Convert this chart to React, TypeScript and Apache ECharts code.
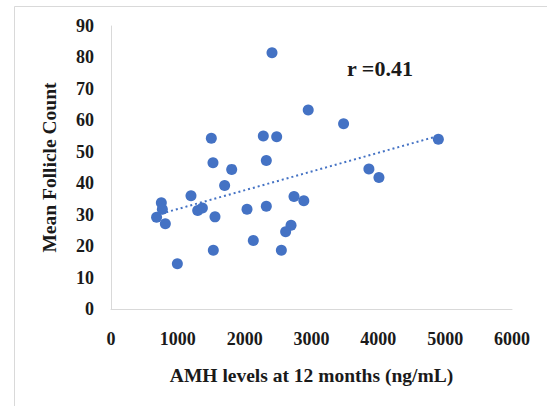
import React, { useEffect, useRef } from "react";
import * as echarts from "echarts";

const amh: number[] = [
  2409, 2951, 1501, 2279, 2479, 1526, 2324, 1806, 3480, 4898, 3859, 4009, 1700,
  1197, 753, 768, 682, 813, 1297, 1367, 1556, 2035, 2324, 2738, 2885, 2694,
  2613, 2129, 1531, 2549, 993,
];
const follicles: number[] = [
  81.5, 63.3, 54.3, 55.0, 54.8, 46.5, 47.2, 44.4, 58.9, 54.0, 44.5, 41.8, 39.3,
  36.0, 33.8, 31.7, 29.2, 27.1, 31.3, 32.1, 29.3, 31.7, 32.7, 35.8, 34.4, 26.6,
  24.6, 21.8, 18.7, 18.7, 14.4,
];
const xTicks = { min: 0, max: 6000, interval: 1000 };
const yTicks = { min: 0, max: 90, interval: 10 };
const rLabel = "r =0.41";
const xTitle = "AMH levels at 12 months (ng/mL)";
const yTitle = "Mean Follicle Count";

function regression(xs: number[], ys: number[]) {
  const n = xs.length;
  const mx = xs.reduce((a, b) => a + b, 0) / n;
  const my = ys.reduce((a, b) => a + b, 0) / n;
  let sxy = 0;
  let sxx = 0;
  for (let i = 0; i < n; i++) {
    sxy += (xs[i] - mx) * (ys[i] - my);
    sxx += (xs[i] - mx) * (xs[i] - mx);
  }
  const slope = sxy / sxx;
  return { slope, intercept: my - slope * mx };
}

export default function App() {
  const ref = useRef<HTMLDivElement>(null);
  useEffect(() => {
    if (!ref.current) return;
    const chart = echarts.init(ref.current, null, { renderer: "svg" });
    const { slope, intercept } = regression(amh, follicles);
    const xmin = Math.min(...amh);
    const xmax = Math.max(...amh);
    const font = "'Liberation Serif', 'Times New Roman', serif";
    const axisLabel = {
      fontFamily: font,
      fontWeight: "bold" as const,
      fontSize: 18,
      color: "#1a1a1a",
    };
    chart.setOption({
      animation: false,
      grid: { left: 111, right: 35, top: 26, bottom: 97 },
      graphic: [
        {
          type: "rect",
          shape: { x: 14.5, y: 6.5, width: 620, height: 500 },
          style: { fill: "none", stroke: "#d9d9d9", lineWidth: 1 },
          silent: true,
        },
        {
          type: "text",
          left: 347,
          top: 57,
          style: {
            text: rLabel,
            font: `bold 22px ${font}`,
            fill: "#1a1a1a",
          },
        },
      ],
      xAxis: {
        type: "value",
        ...xTicks,
        name: xTitle,
        nameLocation: "middle",
        nameGap: 56,
        nameTextStyle: { ...axisLabel, fontSize: 19.5 },
        axisLine: { show: true, lineStyle: { color: "#d9d9d9", width: 1 } },
        axisTick: { show: false },
        splitLine: { show: false },
        axisLabel: { ...axisLabel, margin: 21, formatter: (v: number) => String(v) },
      },
      yAxis: {
        type: "value",
        ...yTicks,
        name: yTitle,
        nameLocation: "middle",
        nameGap: 52,
        nameTextStyle: { ...axisLabel, fontSize: 19.5 },
        axisLine: { show: true, lineStyle: { color: "#d9d9d9", width: 1 } },
        axisTick: { show: false },
        splitLine: { show: false },
        axisLabel: { ...axisLabel, margin: 17 },
      },
      series: [
        {
          type: "line",
          data: [
            [xmin, intercept + slope * xmin],
            [xmax, intercept + slope * xmax],
          ],
          showSymbol: false,
          symbol: "none",
          lineStyle: { color: "#4472C4", width: 2, type: [2, 3] },
          z: 1,
        },
        {
          type: "scatter",
          data: amh.map((x, i) => [x, follicles[i]]),
          symbolSize: 11,
          itemStyle: { color: "#4472C4", opacity: 1 },
          z: 2,
        },
      ],
    });
    return () => chart.dispose();
  }, []);
  return (
    <div
      ref={ref}
      style={{ position: "fixed", left: 0, top: 0, width: 547, height: 406, background: "#fff" }}
    />
  );
}
